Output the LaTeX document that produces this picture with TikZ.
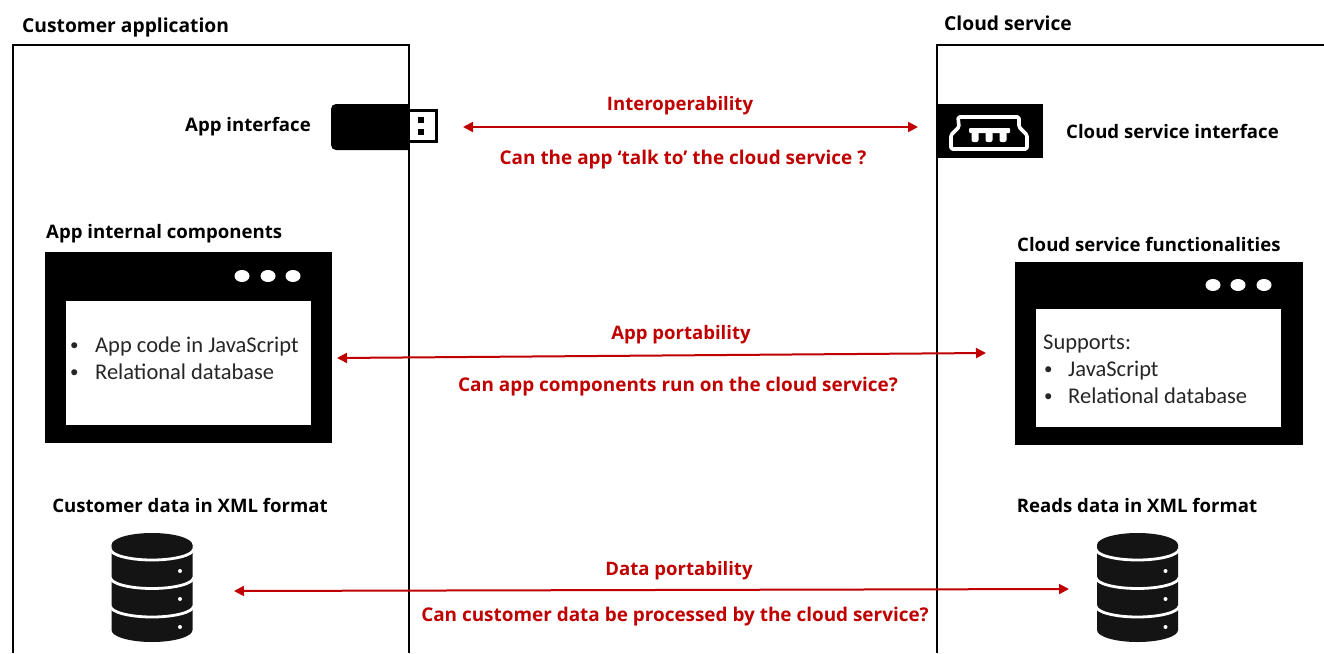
\documentclass[tikz,border=0pt]{standalone}
\usepackage{fontspec}
\setmainfont{Open Sans}
\newfontfamily\bodyfont{Carlito}
\usetikzlibrary{arrows.meta}
\definecolor{redc}{HTML}{C00000}
\tikzset{
  x=1pt,y=-1pt,
  lbl/.style={font=\fontsize{18.6}{22}\selectfont\bfseries,inner sep=0pt,text=black},
  rlbl/.style={font=\fontsize{18.55}{22}\selectfont\bfseries,inner sep=0pt,text=redc},
  qlbl/.style={font=\fontsize{18.92}{22}\selectfont\bfseries,inner sep=0pt,text=redc},
  ttl/.style={font=\fontsize{19.25}{22}\selectfont\bfseries,inner sep=0pt,text=black,anchor=west},
  body/.style={font=\bodyfont\fontsize{22.5}{27}\selectfont,inner sep=0pt,text=black!85,anchor=base west},
  bul/.style={font=\bodyfont\fontsize{17}{20}\selectfont,inner sep=0pt,text=black!85,anchor=base west},
  frame/.style={draw=black,line width=1.6pt},
  link/.style={draw=redc,line width=2pt,{Triangle[length=10pt,width=10pt]}-{Triangle[length=10pt,width=10pt]}},
  db/.pic={
    \fill[black!92] (-40.5,12) -- (-40.5,97) arc[start angle=180,end angle=0,x radius=40.5,y radius=12] -- (40.5,12) -- cycle;
    \fill[black!92] (0,12) ellipse[x radius=40.5,y radius=12];
    \foreach \d in {16,44.5,73}{
      \draw[white,line width=2.8pt] (-41.5,\d) arc[start angle=180,end angle=0,x radius=41.5,y radius=11];
    }
    \foreach \d in {38,66,94}{
      \fill[white] (28,\d) circle[radius=2];
    }
  }
}
\begin{document}
\begin{tikzpicture}
\useasboundingbox (0,0) rectangle (1324,653);
\fill[white] (0,0) rectangle (1324,653);
% frames
\draw[frame] (13,653) -- (13,45) -- (409,45) -- (409,653);
\draw[frame] (937,653) -- (937,45) -- (1324,45);
\node[ttl] (custtitle) at (22,27) {Customer application};
\node[ttl] (cloudtitle) at (944,23) {Cloud service};
% USB
\node[lbl,anchor=east] (appif) at (311,127) {App interface};
\fill[black] (409,104) -- (409,150) [rounded corners=5pt] -- (331,150) -- (331,104) [sharp corners] -- cycle;
\draw[black,line width=3pt] (409,110.5) -- (436,110.5) -- (436,141.5) -- (409,141.5);
\fill[black] (417.5,117) rectangle (423.5,123);
\fill[black] (417.5,129) rectangle (423.5,135);
\coordinate (usbr) at (463,127);
% port
\fill[black] (937,104) rectangle (1043,158);
\coordinate (portl) at (918,127);
\draw[white,line width=3.6pt,line join=round,rounded corners=1.5pt] (958,117) -- (1019,117) -- (1019,127) -- (1027,135) -- (1027,149) -- (951,149) -- (951,135) -- (959,127) -- cycle;
\fill[white,rounded corners=1pt] (969,128) rectangle (1010,133);
\foreach \t in {975,989,1003}{\fill[white,rounded corners=2pt] (\t-3.5,130) rectangle (\t+3.5,142);}
\node[lbl,anchor=west] (cloudif) at (1066,131) {Cloud service interface};
% left window
\node[lbl,anchor=west] (inttitle) at (46,233.5) {App internal components};
\fill[black] (45,252) rectangle (332,443);
\fill[white] (66,301) rectangle (311,425);
\foreach \d in {242,268,293}{\fill[white] (\d,276) ellipse[x radius=7.5,y radius=6];}
\node[bul] (b1) at (70,350) {•};
\node[body] (t1) at (95,352) {App code in JavaScript};
\node[bul] (b2) at (70,377) {•};
\node[body] (t2) at (95,379) {Relational database};
\coordinate (winl) at (337,358);
% right window
\node[lbl,anchor=west] (functitle) at (1017,244) {Cloud service functionalities};
\fill[black] (1015,262) rectangle (1303,445);
\fill[white] (1036,309) rectangle (1281,427);
\foreach \d in {1213,1238,1264}{\fill[white] (\d,285) ellipse[x radius=7.5,y radius=6];}
\node[body] (s0) at (1043,349) {Supports:};
\node[bul] (s1b) at (1044,374) {•};
\node[body] (s1) at (1068,376) {JavaScript};
\node[bul] (s2b) at (1044,401) {•};
\node[body] (s2) at (1068,403) {Relational database};
\coordinate (winr) at (986,353);
% databases
\node[lbl] (custdata) at (190,505) {Customer data in XML format};
\node[lbl] (readdata) at (1137,505) {Reads data in XML format};
\pic at (152,533) {db};
\pic at (1137.5,533) {db};
\coordinate (dbl) at (234,591);
\coordinate (dbr) at (1069,589);
% links
\draw[link] (usbr) -- (portl);
\draw[link] (winl) -- (winr);
\draw[link] (dbl) -- (dbr);
\node[rlbl] (l1) at (680,105.5) {Interoperability};
\node[qlbl] (l2) at (683,160) {Can the app ‘talk to’ the cloud service ?};
\node[rlbl] (l3) at (681,335) {App portability};
\node[qlbl] (l4) at (678,386.5) {Can app components run on the cloud service?};
\node[rlbl] (l5) at (679,570.5) {Data portability};
\node[qlbl] (l6) at (675,616.5) {Can customer data be processed by the cloud service?};
\end{tikzpicture}
\end{document}
